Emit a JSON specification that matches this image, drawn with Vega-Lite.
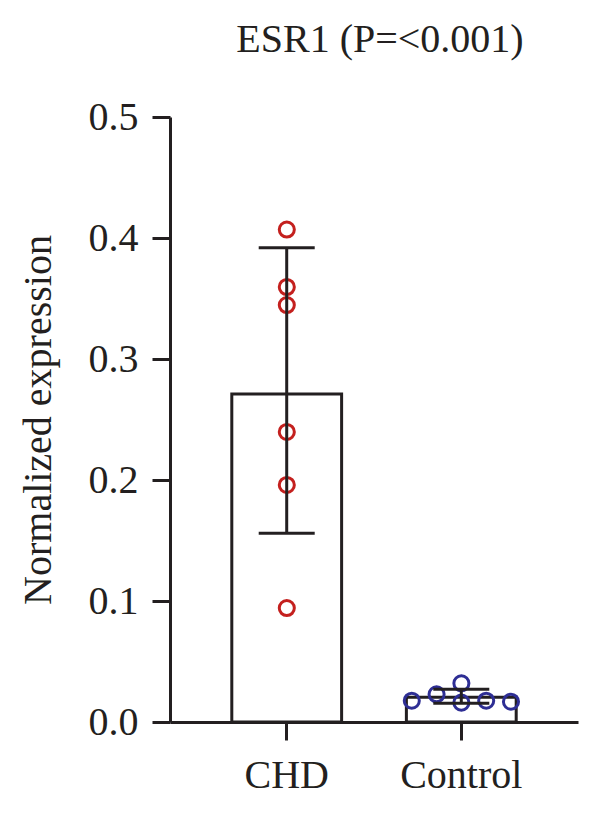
{
  "$schema": "https://vega.github.io/schema/vega-lite/v6.json",
  "width": 408,
  "height": 605,
  "autosize": {"type": "none"},
  "padding": {"left": 170, "top": 117, "right": 22, "bottom": 92},
  "background": "white",
  "title": {
    "text": "ESR1 (P=<0.001)",
    "font": "Liberation Serif",
    "fontSize": 40,
    "fontWeight": "normal",
    "color": "#231f20",
    "anchor": "middle",
    "offset": 37,
    "dx": 6
  },
  "config": {
    "view": {"stroke": null},
    "axis": {
      "grid": false,
      "domainColor": "#231f20",
      "domainWidth": 3,
      "tickColor": "#231f20",
      "tickWidth": 3,
      "tickSize": 18,
      "labelFont": "Liberation Serif",
      "labelFontSize": 40,
      "labelColor": "#231f20",
      "titleFont": "Liberation Serif",
      "titleFontSize": 40,
      "titleFontWeight": "normal",
      "titleColor": "#231f20"
    }
  },
  "datasets": {
    "points": [
      {"group": "CHD", "slot": 3, "value": 0.407},
      {"group": "CHD", "slot": 3, "value": 0.3595},
      {"group": "CHD", "slot": 3, "value": 0.3446},
      {"group": "CHD", "slot": 3, "value": 0.2397},
      {"group": "CHD", "slot": 3, "value": 0.1959},
      {"group": "CHD", "slot": 3, "value": 0.0942},
      {"group": "Control", "slot": 1, "value": 0.0176},
      {"group": "Control", "slot": 2, "value": 0.0229},
      {"group": "Control", "slot": 3, "value": 0.032},
      {"group": "Control", "slot": 3, "value": 0.016},
      {"group": "Control", "slot": 4, "value": 0.0176},
      {"group": "Control", "slot": 5, "value": 0.0168}
    ],
    "summary": [
      {"group": "CHD", "mean": 0.271, "lower": 0.156, "upper": 0.392},
      {"group": "Control", "mean": 0.0205, "lower": 0.0155, "upper": 0.027}
    ]
  },
  "encoding": {
    "x": {
      "field": "group",
      "type": "nominal",
      "scale": {"domain": ["CHD", "Control"], "paddingInner": 0.371, "paddingOuter": 0.354},
      "axis": {"title": null, "labelAngle": 0, "labelPadding": 15}
    }
  },
  "resolve": {"scale": {"xOffset": "independent"}},
  "layer": [
    {
      "data": {"name": "summary"},
      "mark": {"type": "bar", "fill": "white", "stroke": "#231f20", "strokeWidth": 3, "width": {"band": 1}},
      "encoding": {
        "y": {
          "field": "mean",
          "type": "quantitative",
          "scale": {"domain": [0, 0.5], "nice": false},
          "axis": {
            "title": "Normalized expression",
            "values": [0, 0.1, 0.2, 0.3, 0.4, 0.5],
            "format": ".1f",
            "labelPadding": 14,
            "titlePadding": 30
          }
        }
      }
    },
    {
      "data": {"name": "points"},
      "mark": {"type": "point", "shape": "circle", "filled": false, "strokeWidth": 3, "size": 227, "opacity": 1},
      "encoding": {
        "xOffset": {"field": "slot", "type": "nominal", "scale": {"domain": [1, 2, 3, 4, 5], "range": [-7, 117]}},
        "y": {"field": "value", "type": "quantitative"},
        "color": {
          "field": "group",
          "type": "nominal",
          "scale": {"domain": ["CHD", "Control"], "range": ["#c4201e", "#2e2e94"]},
          "legend": null
        }
      }
    },
    {
      "data": {"name": "summary"},
      "mark": {"type": "rule", "color": "#231f20", "strokeWidth": 3},
      "encoding": {
        "y": {"field": "lower", "type": "quantitative"},
        "y2": {"field": "upper"}
      }
    },
    {
      "data": {"name": "summary"},
      "mark": {"type": "tick", "color": "#231f20", "opacity": 1, "thickness": 3, "size": 56},
      "encoding": {"y": {"field": "upper", "type": "quantitative"}}
    },
    {
      "data": {"name": "summary"},
      "mark": {"type": "tick", "color": "#231f20", "opacity": 1, "thickness": 3, "size": 56},
      "encoding": {"y": {"field": "lower", "type": "quantitative"}}
    }
  ]
}
